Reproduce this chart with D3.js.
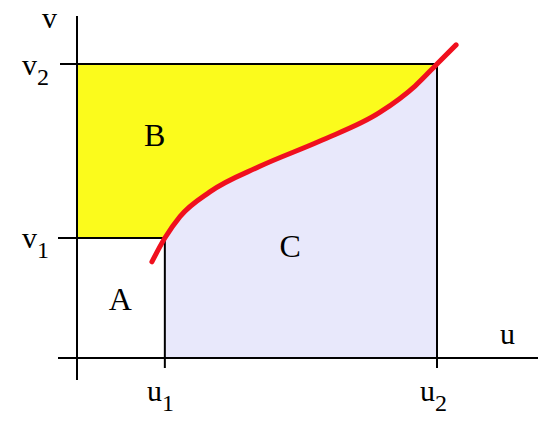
<!DOCTYPE html>
<html><head><meta charset="utf-8">
<script src="https://cdn.jsdelivr.net/npm/d3@7"></script>
<style>body{margin:0;background:#fff}text{font-family:"Liberation Serif","Times New Roman",serif;fill:#000}</style>
</head><body>
<svg id="Canvas" width="550" height="423"></svg>
<script>
// data units: u, v in [0,1] at (u2, v2)
var u1 = 0.244, u2 = 1, v1 = 0.408, v2 = 1;
var curveU = [0.208, 0.244, 0.286, 0.369, 0.508, 0.675, 0.842, 0.939, 1.0, 1.053];
var curveV = [0.327, 0.408, 0.481, 0.565, 0.652, 0.738, 0.836, 0.925, 1.0, 1.065];
var regionLabels = [
  {t: "A", u: 0.12, v: 0.2},
  {t: "B", u: 0.216, v: 0.76},
  {t: "C", u: 0.592, v: 0.38}
];

var svg = d3.select("#Canvas");
var x = d3.scaleLinear().domain([0, 1]).range([77, 437]);
var y = d3.scaleLinear().domain([0, 1]).range([358, 64]);

var pts = curveU.map(function(u, i){ return [u, curveV[i]]; });

var line = d3.line().x(function(d){return x(d[0]);}).y(function(d){return y(d[1]);})
  .curve(d3.curveMonotoneX);

// sample the whole curve, keep the part between u1 and u2 for the fills
var dense = [];
var tmp = svg.append("path").attr("d", line(pts)).attr("fill", "none");
var node = tmp.node(), L = node.getTotalLength();
for (var i = 0; i <= 300; i++) {
  var p = node.getPointAtLength(L * i / 300);
  var d = [x.invert(p.x), y.invert(p.y)];
  if (d[0] >= u1 && d[0] <= u2) dense.push(d);
}
tmp.remove();
dense.unshift([u1, v1]);
dense.push([u2, v2]);

var poly = d3.line().x(function(d){return x(d[0]);}).y(function(d){return y(d[1]);});

// B region (yellow)
svg.append("path")
  .attr("d", poly([[0, v2], [u2, v2]].concat(dense.slice().reverse()).concat([[0, v1]])) + "Z")
  .attr("fill", "#fbfb1c");
// C region (lavender)
svg.append("path")
  .attr("d", poly([[u1, 0]].concat(dense).concat([[u2, 0]])) + "Z")
  .attr("fill", "#e8e8fb");

function seg(a, b, c, d){
  svg.append("line").attr("x1", a).attr("y1", b).attr("x2", c).attr("y2", d)
    .attr("stroke", "#000").attr("stroke-width", 2);
}
// axes
seg(x(0), 16, x(0), 380);
seg(58, y(0), 538, y(0));
// guide lines
seg(60, y(v2), x(u2), y(v2));
seg(58, y(v1), x(u1), y(v1));
seg(x(u1), y(v1), x(u1), 368);
seg(x(u2), y(v2), x(u2), 368);

// red curve
svg.append("path").attr("d", line(pts)).attr("fill", "none")
  .attr("stroke", "#f0101e").attr("stroke-width", 5).attr("stroke-linecap", "round");

function label(t, sub, px, py){
  var tx = svg.append("text").attr("x", px).attr("y", py).attr("font-size", 30).text(t);
  if (sub) tx.append("tspan").attr("dy", 10).attr("font-size", 24).text(sub);
}
label("v", null, 42, 28);
label("v", "2", 22, 75);
label("v", "1", 22, 248);
label("u", null, 500, 344);
label("u", "1", 147, 401);
label("u", "2", 420, 401);

svg.selectAll(".region").data(regionLabels).enter().append("text")
  .attr("class", "region").attr("x", function(d){return x(d.u);}).attr("y", function(d){return y(d.v);})
  .attr("text-anchor", "middle").attr("dy", "0.35em").attr("font-size", 32)
  .text(function(d){return d.t;});
</script>
</body></html>
